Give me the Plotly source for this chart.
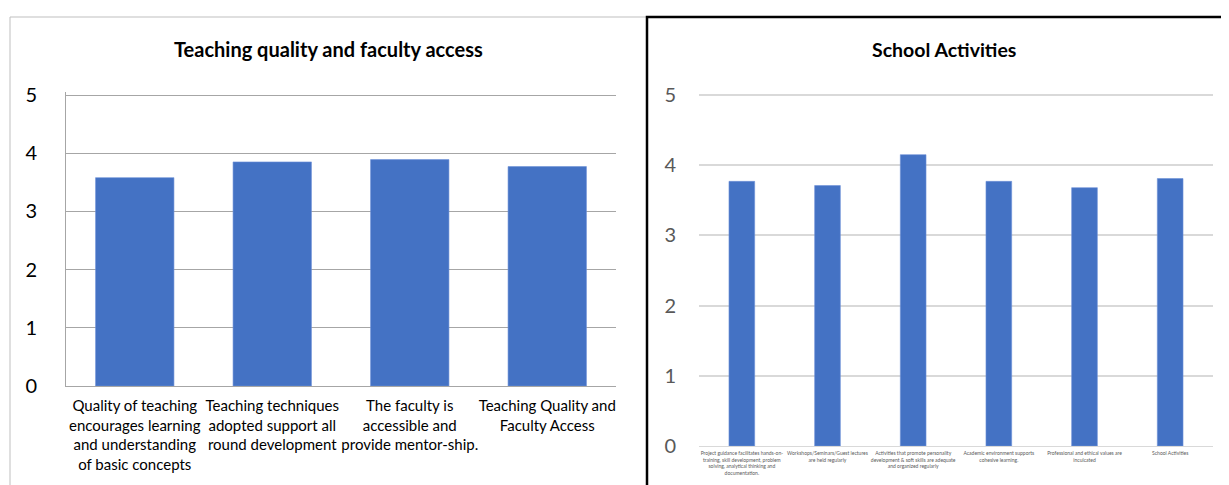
import plotly.graph_objects as go

# ---- data ----
left_title = "Teaching quality and faculty access"
left_categories = [
    "Quality of teaching<br>encourages learning<br>and understanding<br>of basic concepts",
    "Teaching techniques<br>adopted support all<br>round development",
    "The faculty is<br>accessible and<br>provide mentor-ship.",
    "Teaching Quality and<br>Faculty Access",
]
left_values = [3.58, 3.85, 3.89, 3.77]

right_title = "School Activities"
right_categories = [
    "Project guidance facilitates hands-on-<br>training, skill development, problem<br>solving, analytical thinking and<br>documentation.",
    "Workshops/Seminars/Guest lectures<br>are held regularly",
    "Activities that promote personality<br>development & soft skills are adequate<br>and organized regularly",
    "Academic environment supports<br>cohesive learning.",
    "Professional and ethical values are<br>inculcated",
    "School Activities",
]
right_values = [3.77, 3.71, 4.15, 3.77, 3.68, 3.81]

y_ticks = [0, 1, 2, 3, 4, 5]

W, H = 1229, 485
OFF = 8  # page body margin
FONT = "Lato, Carlito, Calibri, sans-serif"
BAR = "#4472C4"
YMAX = 5.05


def px(x):
    return (x - OFF) / W


def py(y):
    return 1 - (y - OFF) / H


# pixel geometry of plot areas (value 0 and value 5 rows)
L0, L5 = 386, 95
R0, R5 = 446, 95
L_top = L0 - (L0 - L5) * YMAX / 5
R_top = R0 - (R0 - R5) * YMAX / 5

fig = go.Figure()
fig.add_trace(go.Bar(x=left_categories, y=left_values, marker=dict(color=BAR, line=dict(color="#6d91d6", width=0.6)),
                     xaxis="x", yaxis="y", showlegend=False, width=0.57))
fig.add_trace(go.Bar(x=right_categories, y=right_values, marker=dict(color=BAR, line=dict(color="#6d91d6", width=0.6)),
                     xaxis="x2", yaxis="y2", showlegend=False, width=0.30))

fig.update_layout(
    width=W, height=H,
    margin=dict(l=0, r=0, t=0, b=0, pad=0),
    paper_bgcolor="white", plot_bgcolor="white",
    font=dict(family=FONT, color="black"),
    xaxis=dict(domain=[px(66), px(616)], anchor="y", showgrid=False, showline=True, linecolor="#a6a6a6",
               linewidth=1, ticks="", tickangle=0, tickfont=dict(size=15, color="black", family=FONT),
               ticklabelstandoff=6, fixedrange=True, automargin=False),
    yaxis=dict(domain=[py(L0), py(L_top)], anchor="x", range=[0, YMAX], tickvals=y_ticks, showgrid=True,
               gridcolor="#a6a6a6", gridwidth=1, showline=True, linecolor="#a6a6a6", zeroline=False,
               ticks="", tickfont=dict(size=20, color="black", family=FONT), ticklabelstandoff=24,
               automargin=False),
    xaxis2=dict(domain=[px(699), px(1213)], anchor="y2", showgrid=False, showline=True, linecolor="#d9d9d9",
                linewidth=1, ticks="", tickangle=0, tickfont=dict(size=5, color="#595959", family=FONT),
                ticklabelstandoff=2, automargin=False),
    yaxis2=dict(domain=[py(R0), py(R_top)], anchor="x2", range=[0, YMAX], tickvals=y_ticks, showgrid=True,
                gridcolor="#d9d9d9", gridwidth=1.5, showline=False, zeroline=False, ticks="",
                tickfont=dict(size=20, color="#595959", family=FONT), ticklabelstandoff=22,
                automargin=False),
)

# panel borders
fig.add_shape(type="rect", xref="paper", yref="paper", x0=px(10), x1=px(647), y0=py(500), y1=py(17),
              line=dict(color="#bfbfbf", width=1), layer="below")
fig.add_shape(type="rect", xref="paper", yref="paper", x0=px(647), x1=px(1250), y0=py(500), y1=py(17),
              line=dict(color="black", width=2.5), layer="above")

# titles
fig.add_annotation(x=px(328), y=py(49), xref="paper", yref="paper", text="<b>" + left_title + "</b>",
                   showarrow=False, font=dict(size=20, color="black", family=FONT), xanchor="center", yanchor="middle")
fig.add_annotation(x=px(944), y=py(49), xref="paper", yref="paper", text="<b>" + right_title + "</b>",
                   showarrow=False, font=dict(size=19.5, color="black", family=FONT), xanchor="center", yanchor="middle")

fig.write_html("out.html")
